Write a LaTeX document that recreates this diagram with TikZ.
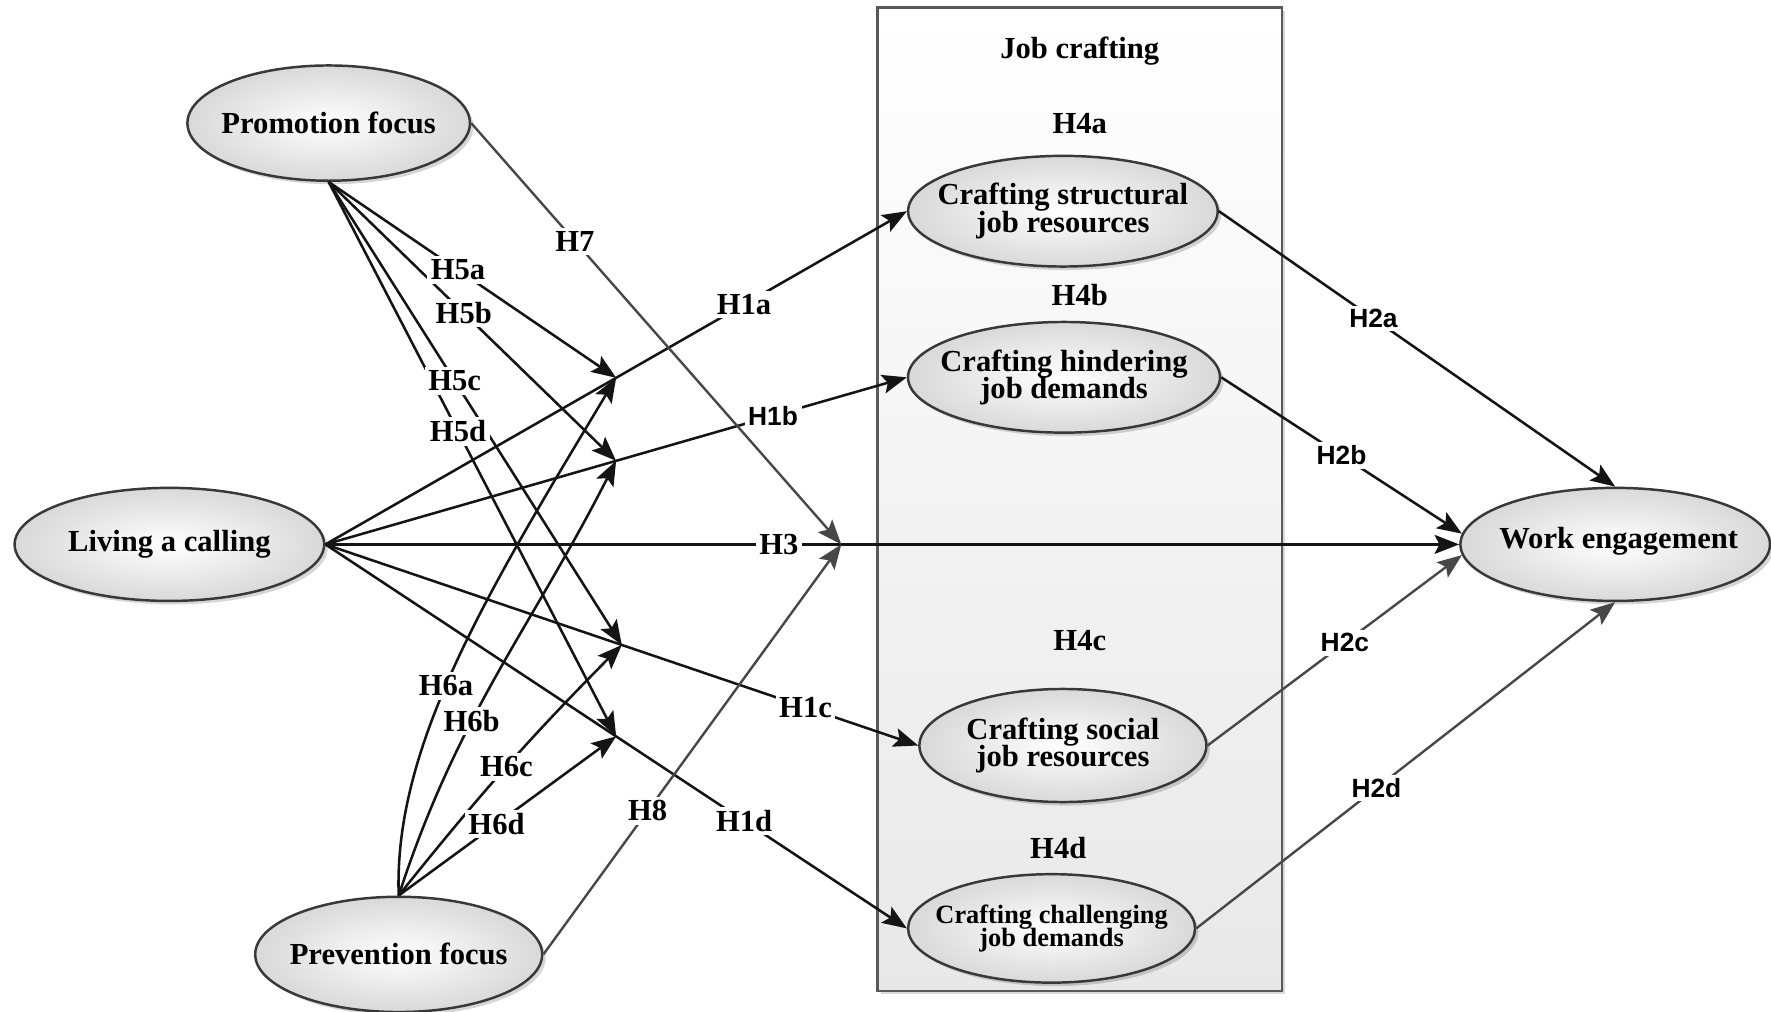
\documentclass[tikz,border=0pt]{standalone}
\usepackage{fontspec}
\setmainfont{Liberation Serif}
\newfontfamily\lsans{Liberation Sans}
\usetikzlibrary{arrows.meta,shapes.geometric,shadows,calc}
\lineskiplimit=-10pt
\begin{document}
\begin{tikzpicture}[x=0.01cm,y=0.01cm,
  ell/.style={ellipse, draw=black!78, line width=0.7pt, inner color=white, outer color=black!15, inner sep=0pt,
    drop shadow={shadow xshift=1pt, shadow yshift=-1pt, opacity=0.16, fill=black}},
  etext/.style={font=\fontsize{8.7pt}{7.8pt}\selectfont\bfseries, align=center, inner sep=0pt},
  stext/.style={font=\fontsize{7.5pt}{6.5pt}\selectfont\bfseries, align=center, inner sep=0pt},
  lab/.style={font=\fontsize{8.7pt}{9pt}\selectfont\bfseries, fill=white, inner sep=1pt},
  slab/.style={font=\lsans\fontsize{7.5pt}{9pt}\selectfont\bfseries, fill=white, inner sep=1pt},
  arr/.style={-{Stealth[length=7pt,width=5.4pt,inset=1.4pt]}, line width=0.72pt, black!92},
  tarr/.style={-{Stealth[length=7pt,width=5.4pt,inset=1.4pt]}, line width=0.68pt, black!72},
]
\useasboundingbox (0,0) rectangle (1771,-1012);

% job crafting box
\node[draw=black!65, line width=0.7pt, top color=white, bottom color=black!9, minimum width=40.44mm, minimum height=98.25mm, inner sep=0pt,
  drop shadow={shadow xshift=0.9pt, shadow yshift=-0.9pt, opacity=0.15, fill=black}] (jc) at (1079.8,-499.25) {};
\node[etext] (jct) at (1079.8,-51) {Job crafting};
\node[etext] (h4a) at (1079.8,-123.1) {H4a};
\node[etext] (h4b) at (1079.8,-294.8) {H4b};
\node[etext] (h4c) at (1079.8,-640.4) {H4c};
\node[etext] (h4d) at (1058.3,-848.3) {H4d};

% ellipses
\node[ell, minimum width=28.24mm, minimum height=11.52mm] (pro) at (328.7,-123.1) {};
\node[ell, minimum width=30.94mm, minimum height=11.30mm] (lc) at (169.4,-544.4) {};
\node[ell, minimum width=28.68mm, minimum height=11.52mm] (pf) at (398.7,-954.4) {};
\node[ell, minimum width=30.94mm, minimum height=11.06mm] (cs) at (1062.9,-211.2) {};
\node[ell, minimum width=31.18mm, minimum height=11.06mm] (ch) at (1064,-377.3) {};
\node[ell, minimum width=28.68mm, minimum height=11.30mm] (cso) at (1062.9,-745.5) {};
\node[ell, minimum width=28.68mm, minimum height=10.84mm] (cc) at (1051.6,-928.4) {};
\node[ell, minimum width=30.94mm, minimum height=11.30mm] (we) at (1615.2,-544.4) {};

\node[etext] (pro-t) at (pro) {Promotion focus};
\node[etext] (lc-t) at (lc) {Living a calling};
\node[etext] (pf-t) at (pf) {Prevention focus};
\node[etext] (cs-t) at (cs) {Crafting structural\\job resources};
\node[etext] (ch-t) at (ch) {Crafting hindering\\job demands};
\node[etext] (cso-t) at (cso) {Crafting social\\job resources};
\node[stext] (cc-t) at (cc) {Crafting challenging\\job demands};
\node[etext] (we-t) at ([xshift=1pt,yshift=1pt]we.center) {Work engagement};

% moderation points
\coordinate (m1a) at ($(lc.east)!0.5!(cs.west)$);
\coordinate (m1b) at ($(lc.east)!0.5!(ch.west)$);
\coordinate (m1c) at ($(lc.east)!0.5!(cso.west)$);
\coordinate (m1d) at ($(lc.east)!0.5!(cc.west)$);
\coordinate (m3) at ($(lc.east)!0.455!(we.west)$);

% connectors
\draw[arr] (lc.east) -- (cs.west);
\draw[arr] (lc.east) -- (ch.west);
\draw[arr] (lc.east) -- (we.west);
\draw[arr] (lc.east) -- (cso.west);
\draw[arr] (lc.east) -- (cc.west);

\draw[arr] (pro.south) -- (m1a);
\draw[arr] (pro.south) -- (m1b);
\draw[arr] (pro.south) -- (m1c);
\draw[arr] (pro.south) -- (m1d);

\draw[arr] (pf.north) .. controls +(92:150) and +(239:250) .. (m1a);
\draw[arr] (pf.north) to[out=72,in=243] (m1b);
\draw[arr] (pf.north) to[bend left=3] (m1c);
\draw[arr] (pf.north) -- (m1d);

\draw[tarr] (pro.east) -- (m3);
\draw[tarr] (pf.east) -- (m3);

\draw[arr] (cs.east) -- (we.north);
\draw[arr] (ch.east) -- (we.176);
\draw[tarr] (cso.east) -- (we.184);
\draw[tarr] (cc.east) -- (we.south);

% labels
\path (pro.south) -- (m1a) node[lab,pos=.45] (l5a) {H5a};
\path (pro.south) -- (m1b) node[lab,pos=.47] (l5b) {H5b};
\path (pro.south) -- (m1c) node[lab,pos=.43] (l5c) {H5c};
\path (pro.south) -- (m1d) node[lab,pos=.45] (l5d) {H5d};
\path (pf.north) .. controls +(92:150) and +(239:250) .. (m1a) node[lab,pos=.45] (l6a) {H6a};
\path (pf.north) to[out=72,in=243] node[lab,pos=.38] (l6b) {H6b} (m1b);
\path (pf.north) to[bend left=3] node[lab,pos=.5] (l6c) {H6c} (m1c);
\path (pf.north) -- (m1d) node[lab,pos=.45] (l6d) {H6d};
\path (pro.east) -- (m3) node[lab,pos=.28] (l7) {H7};
\path (pf.east) -- (m3) node[lab,pos=.35] (l8) {H8};
\path (lc.east) -- (cs.west) node[lab,pos=.72] (l1a) {H1a};
\path (lc.east) -- (ch.west) node[slab,pos=.77] (l1b) {H1b};
\path (lc.east) -- (we.west) node[lab,pos=.4] (l3) {H3};
\path (lc.east) -- (cso.west) node[lab,pos=.81] (l1c) {H1c};
\path (lc.east) -- (cc.west) node[lab,pos=.72] (l1d) {H1d};
\path (cs.east) -- (we.north) node[slab,pos=.39] (l2a) {H2a};
\path (ch.east) -- (we.176) node[slab,pos=.5] (l2b) {H2b};
\path (cso.east) -- (we.184) node[slab,pos=.54] (l2c) {H2c};
\path (cc.east) -- (we.south) node[slab,pos=.43] (l2d) {H2d};
\end{tikzpicture}
\end{document}
